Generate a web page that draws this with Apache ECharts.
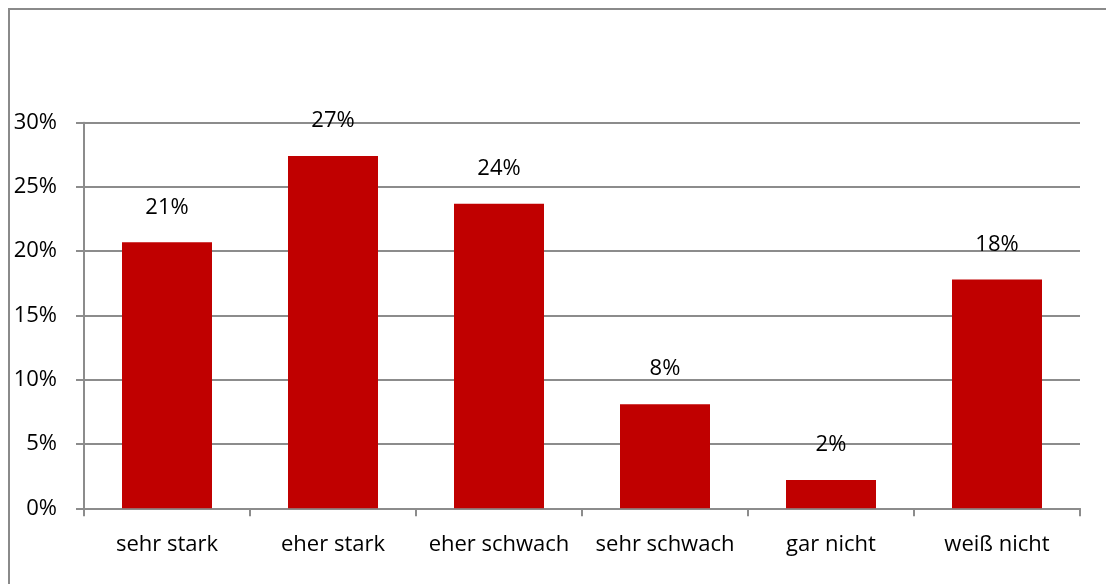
<!DOCTYPE html>
<html>
<head>
<meta charset="utf-8">
<script src="https://cdn.jsdelivr.net/npm/echarts@6/dist/echarts.min.js"></script>
<style>
  html, body { margin: 0; padding: 0; background: #fff; }
  #frame {
    position: absolute; left: 8px; top: 8px; width: 1200px; height: 700px;
    border-left: 2px solid #8a8a8a; border-top: 2px solid #8a8a8a;
    box-sizing: border-box;
  }
  #chart { position: absolute; left: 0; top: 0; width: 1106px; height: 584px; }
</style>
</head>
<body>
<div id="frame"></div>
<div id="chart"></div>
<script>
// Survey answers and shares (percent)
const categories = ['sehr stark', 'eher stark', 'eher schwach', 'sehr schwach', 'gar nicht', 'weiß nicht'];
const shares = [20.7, 27.4, 23.7, 8.1, 2.2, 17.8];
const yTicks = [0, 5, 10, 15, 20, 25, 30];

const FONT = '"Open Sans", "DejaVu Sans", sans-serif';
const GRID_COLOR = '#8c8c8c';

const chart = echarts.init(document.getElementById('chart'), null, { renderer: 'canvas' });
chart.setOption({
  animation: false,
  backgroundColor: 'transparent',
  textStyle: { fontFamily: FONT },
  grid: { left: 84, right: 26, top: 122.7, bottom: 75.7, containLabel: false },
  xAxis: {
    type: 'category',
    data: categories,
    axisLine: { show: true, lineStyle: { color: GRID_COLOR, width: 2 } },
    axisTick: { show: true, alignWithLabel: false, length: 8, lineStyle: { color: GRID_COLOR, width: 2 } },
    axisLabel: { color: '#000', fontSize: 22, fontFamily: FONT, margin: 25, interval: 0 },
    splitLine: { show: false }
  },
  yAxis: {
    type: 'value',
    min: yTicks[0],
    max: yTicks[yTicks.length - 1],
    interval: yTicks[1] - yTicks[0],
    axisLine: { show: true, lineStyle: { color: GRID_COLOR, width: 2 } },
    axisTick: { show: true, length: 8, lineStyle: { color: GRID_COLOR, width: 2 } },
    axisLabel: { color: '#000', fontSize: 22, fontFamily: FONT, margin: 27, formatter: v => v + '%' },
    splitLine: { show: true, lineStyle: { color: GRID_COLOR, width: 2 } }
  },
  series: [{
    type: 'bar',
    data: shares,
    barWidth: 90,
    itemStyle: { color: '#c00000' },
    label: {
      show: true,
      position: 'top',
      distance: 24,
      color: '#000',
      fontSize: 22,
      fontFamily: FONT,
      formatter: p => Math.round(p.value) + '%'
    }
  }]
});
</script>
</body>
</html>
